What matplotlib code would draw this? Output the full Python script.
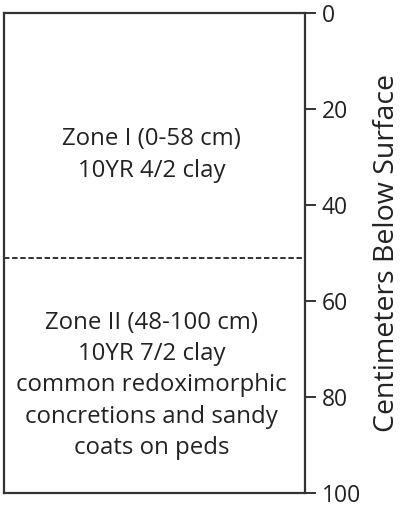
import matplotlib.pyplot as plt

plt.rcParams['font.family'] = ['Open Sans', 'DejaVu Sans']

boundary = 51  # depth of the zone boundary in cm
zone_labels = ["Zone I (0-58 cm)\n10YR 4/2 clay",
               "Zone II (48-100 cm)\n10YR 7/2 clay\ncommon redoximorphic\nconcretions and sandy\ncoats on peds"]
zone_centers = [29.6, 77.6]
depth_ticks = [0, 20, 40, 60, 80, 100]

fig = plt.figure(figsize=(4.03, 5.13), dpi=100)
ax = fig.add_axes([4/403, 20/513, 301/403, 480/513])

ax.set_xlim(0, 1)
ax.set_ylim(100, 0)
ax.axhline(boundary, color="#222222", linestyle=(0, (3, 1.5)), linewidth=1.3)

for lab, yc in zip(zone_labels, zone_centers):
    ax.text(0.49, yc, lab, ha="center", va="center", fontsize=17.3,
            linespacing=1.4, color="#222222")

ax.yaxis.tick_right()
ax.yaxis.set_label_position("right")
ax.set_yticks(depth_ticks)
ax.tick_params(axis="y", labelsize=16.5, length=8, width=1.3, colors="#222222", pad=4)
ax.set_xticks([])
ax.set_ylabel("Centimeters Below Surface", fontsize=20.5, color="#222222", labelpad=9)
for s in ax.spines.values():
    s.set_linewidth(1.6)
    s.set_color("#333333")

fig.savefig("out.png", dpi=100)
